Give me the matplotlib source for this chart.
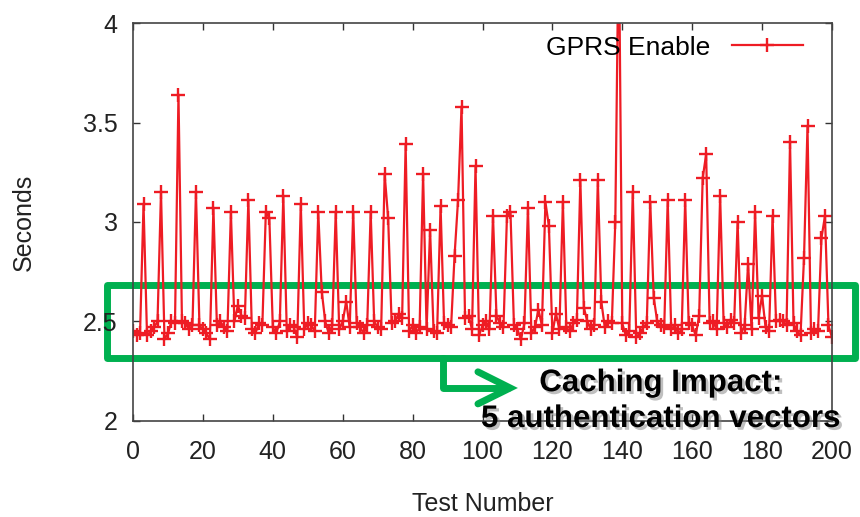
import numpy as np
import matplotlib
matplotlib.use("Agg")
import matplotlib.pyplot as plt
import matplotlib.patheffects as pe
from matplotlib.patches import Rectangle

# Response time per test (seconds)
seconds = [
    2.45, 2.43, 2.44, 3.09, 2.43, 2.45, 2.47, 2.50, 3.15, 2.41,
    2.44, 2.50, 2.49, 3.64, 2.50, 2.49, 2.46, 2.48, 3.15, 2.48,
    2.46, 2.44, 2.41, 3.07, 2.48, 2.50, 2.47, 2.45, 3.05, 2.50,
    2.58, 2.53, 2.52, 3.11, 2.46, 2.44, 2.49, 2.48, 3.05, 3.02,
    2.47, 2.44, 2.50, 3.13, 2.45, 2.48, 2.47, 2.42, 3.09, 2.46,
    2.49, 2.48, 2.45, 3.05, 2.65, 2.50, 2.44, 2.48, 3.05, 2.46,
    2.50, 2.60, 2.47, 3.05, 2.49, 2.47, 2.44, 2.48, 3.05, 2.50,
    2.47, 2.46, 3.24, 3.02, 2.49, 2.50, 2.54, 2.52, 3.39, 2.45,
    2.48, 2.44, 2.47, 3.24, 2.46, 2.96, 2.45, 2.44, 3.08, 2.49,
    2.48, 2.47, 2.83, 3.11, 3.58, 2.52, 2.53, 2.46, 3.28, 2.43,
    2.48, 2.50, 2.46, 3.03, 2.53, 2.49, 2.47, 3.03, 3.05, 2.48,
    2.46, 2.41, 2.49, 3.07, 2.44, 2.47, 2.56, 2.48, 3.10, 2.98,
    2.44, 2.54, 2.46, 3.10, 2.47, 2.45, 2.49, 2.51, 3.21, 2.57,
    2.50, 2.46, 2.48, 3.21, 2.60, 2.47, 2.50, 2.49, 3.00, 4.50,
    2.49, 2.43, 2.45, 3.15, 2.42, 2.44, 2.47, 2.49, 3.10, 2.62,
    2.50, 2.48, 2.47, 3.11, 2.46, 2.48, 2.44, 2.46, 3.11, 2.49,
    2.48, 2.43, 2.53, 3.22, 3.34, 2.49, 2.50, 2.46, 3.13, 2.49,
    2.47, 2.51, 2.49, 3.00, 2.44, 2.48, 2.79, 2.46, 3.05, 2.52,
    2.63, 2.47, 2.45, 3.03, 2.50, 2.51, 2.50, 2.48, 3.40, 2.49,
    2.45, 2.43, 2.82, 3.48, 2.44, 2.46, 2.45, 2.92, 3.03, 2.48,
    2.42,
]
tests = np.arange(len(seconds))

x_ticks = [0, 20, 40, 60, 80, 100, 120, 140, 160, 180, 200]
y_ticks = [2, 2.5, 3, 3.5, 4]
y_tick_labels = ["2", "2.5", "3", "3.5", "4"]

plt.rcParams["font.family"] = ["Liberation Sans", "DejaVu Sans"]

fig = plt.figure(figsize=(8.6, 5.17), dpi=100)
ax = fig.add_axes([0.1547, 0.1857, 0.8127, 0.7698])

red = "#ee1c24"
green = "#00b050"

ax.plot(tests, seconds, color=red, lw=1.6, marker="+", ms=10, mew=1.7,
        label="GPRS Enable")

ax.set_xlim(0, 200)
ax.set_ylim(2, 4)
ax.set_xticks(x_ticks)
ax.set_yticks(y_ticks)
ax.set_yticklabels(y_tick_labels)
ax.tick_params(direction="in", length=5, width=1, top=True, right=True,
               labelsize=18, colors="#333333", labelcolor="#222222")
ax.tick_params(axis="x", pad=14)
ax.tick_params(axis="y", pad=11)
for s in ax.spines.values():
    s.set_color("#444444")
    s.set_linewidth(1.2)

ax.set_xlabel("Test Number", fontsize=18, color="#222222", labelpad=20)
ax.set_ylabel("Seconds", fontsize=18, color="#222222", labelpad=34)

ax.legend(loc="upper right", frameon=False, markerfirst=False, numpoints=1,
          fontsize=19, handlelength=2.7, borderaxespad=0.3,
          bbox_to_anchor=(0.985, 1.015))

# green box around the cached (fast) responses
box = Rectangle((-7.4, 2.317), 214.0, 0.368, fill=False, edgecolor=green,
                lw=5, joinstyle="round", clip_on=False)
ax.add_patch(box)

# elbow arrow to the note
ax.plot([88.7, 88.7, 107.3], [2.317, 2.166, 2.166], color=green, lw=5,
        clip_on=False, solid_joinstyle="round", solid_capstyle="round")
ax.plot([98.7, 107.9, 98.7], [2.247, 2.166, 2.086], color=green, lw=5,
        clip_on=False, solid_joinstyle="miter", solid_capstyle="round")

shadow = [pe.withSimplePatchShadow(offset=(2, -2), shadow_rgbFace="0.5",
                                   alpha=0.5)]
ax.text(151, 2.19, "Caching Impact:", ha="center", va="center",
        fontsize=22.5, fontweight="bold", color="black", path_effects=shadow)
ax.text(151, 2.01, "5 authentication vectors", ha="center", va="center",
        fontsize=22.5, fontweight="bold", color="black", path_effects=shadow,
        clip_on=False)

fig.savefig("out.png", dpi=100)
